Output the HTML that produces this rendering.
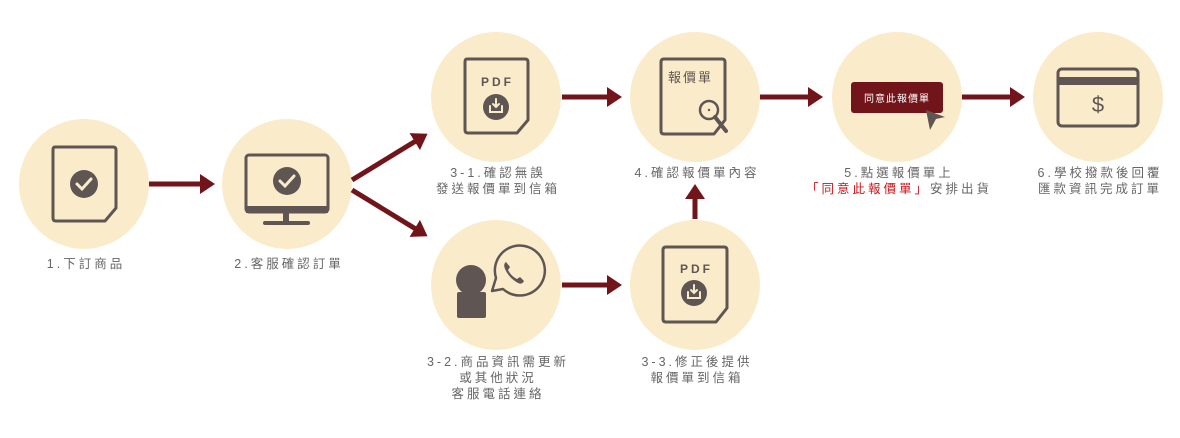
<!DOCTYPE html>
<html><head><meta charset="utf-8"><style>
html,body{margin:0;padding:0;background:#fff;width:1180px;height:438px;overflow:hidden}
.t{position:absolute;font-family:"Liberation Sans","Noto Sans CJK TC",sans-serif;font-size:12.5px;color:#666;letter-spacing:3px;text-align:center;line-height:16px;white-space:nowrap;transform:translateX(-50%)}
.r{color:#c8161d}
</style></head><body>
<svg width="1180" height="438" style="position:absolute;left:0;top:0">
<defs>
<marker id="ah" markerWidth="4" markerHeight="4" refX="1" refY="2" orient="auto" markerUnits="strokeWidth"><path d="M0,0 L3,2 L0,4 Z" fill="#72151b"/></marker>
</defs>
<g fill="#faecca">
<circle cx="84" cy="184" r="65"/><circle cx="287" cy="184" r="65"/>
<circle cx="496" cy="97" r="65"/><circle cx="695" cy="97" r="65"/>
<circle cx="897" cy="97" r="65"/><circle cx="1098" cy="97" r="65"/>
<circle cx="496" cy="285" r="65"/><circle cx="695" cy="285" r="65"/>
</g>
<g stroke="#72151b" stroke-width="5" fill="none" marker-end="url(#ah)">
<line x1="149" y1="184" x2="205" y2="184"/>
<line x1="352" y1="180" x2="419" y2="139"/>
<line x1="352" y1="190" x2="419" y2="231"/>
<line x1="562" y1="97" x2="612" y2="97"/>
<line x1="760" y1="97" x2="813" y2="97"/>
<line x1="962" y1="97" x2="1015" y2="97"/>
<line x1="562" y1="285" x2="612" y2="285"/>
<line x1="695" y1="219" x2="695" y2="194"/>
</g>
<g stroke="#5f5653" stroke-width="3" fill="none" stroke-linejoin="round">
<path d="M55,147 H113 Q116,147 116,150 V208 L105,221 H56 Q53,221 53,218 V150 Q53,147 55,147 Z"/>
<path d="M467,59 H525 Q528,59 528,62 V120 L517,133 H468 Q465,133 465,130 V62 Q465,59 467,59 Z"/>
<path d="M664,59 H722 Q725,59 725,62 V120 L714,134 H664 Q661,134 661,131 V62 Q661,59 664,59 Z"/>
<path d="M666,247 H724 Q727,247 727,250 V308 L716,322 H666 Q663,322 663,319 V250 Q663,247 666,247 Z"/>
<rect x="246" y="155" width="82" height="57" rx="3"/>
<rect x="1058" y="69" width="80" height="57" rx="4"/>
<path d="M492,291 L496,278 A25,25 0 1,1 503,289 Z" stroke-width="2.5"/>
<circle cx="709" cy="110" r="9" stroke-width="2.5"/>
</g>
<g fill="#5f5653">
<rect x="246" y="206" width="82" height="7"/>
<rect x="283" y="212" width="6" height="10"/>
<rect x="263" y="221" width="47" height="4" rx="2"/>
<circle cx="84" cy="184" r="14"/><circle cx="287" cy="181" r="14"/>
<rect x="1058" y="77" width="80" height="8"/>
<line x1="715" y1="117" x2="726" y2="131" stroke="#5f5653" stroke-width="4" stroke-linecap="round"/>
<circle cx="496" cy="107" r="13"/><circle cx="694" cy="293" r="13"/>
<circle cx="471" cy="280" r="15"/>
<rect x="457" y="292" width="29" height="26" rx="2"/>
<circle cx="709" cy="110" r="1.2"/>
</g>
<g stroke="#faecca" stroke-width="3" fill="none" stroke-linecap="round">
<path d="M77,184 L82,189 L91,179"/><path d="M280,181 L285,186 L294,176"/>
<path d="M490,106 V112 H502 V106 M496,99 V107 M493,104 L496,107 L499,104" stroke-width="2"/>
<path d="M688,292 V298 H700 V292 M694,285 V293 M691,290 L694,293 L697,290" stroke-width="2"/>
</g>
<path d="M506,262 Q503,264 505,269 Q509,278 518,283 Q522,285 524,281 L520,277 L517,279 Q511,276 508,270 L510,267 Z" fill="#5f5653"/>
<rect x="851" y="82" width="92" height="31" rx="3" fill="#72151b"/>
<path d="M926,110 L945,117 L936,119 L930,130 Z" fill="#5f5653"/>
<g font-family="Liberation Sans,sans-serif" font-weight="bold" fill="#5f5653" font-size="12" letter-spacing="3">
<text x="481" y="86">PDF</text><text x="680" y="273">PDF</text>
</g>
<text x="1098" y="112" font-family="Liberation Sans,sans-serif" font-size="22" fill="#5f5653" text-anchor="middle">$</text>
<text x="668" y="82" font-family="Liberation Sans,'Noto Sans CJK TC',sans-serif" font-size="13" fill="#5f5653" letter-spacing="2">報價單</text>
<text x="897" y="102" font-family="Liberation Sans,'Noto Sans CJK TC',sans-serif" font-size="10" fill="#fff" letter-spacing="1" text-anchor="middle">同意此報價單</text>
</svg>
<div class="t" style="left:86px;top:256px">1.下訂商品</div>
<div class="t" style="left:289px;top:256px">2.客服確認訂單</div>
<div class="t" style="left:498px;top:165px">3-1.確認無誤<br>發送報價單到信箱</div>
<div class="t" style="left:697px;top:165px">4.確認報價單內容</div>
<div class="t" style="left:899px;top:165px">5.點選報價單上<br><span class="r">「同意此報價單」</span>安排出貨</div>
<div class="t" style="left:1100px;top:165px">6.學校撥款後回覆<br>匯款資訊完成訂單</div>
<div class="t" style="left:498px;top:354px">3-2.商品資訊需更新<br>或其他狀況<br>客服電話連絡</div>
<div class="t" style="left:697px;top:354px">3-3.修正後提供<br>報價單到信箱</div>
</body></html>
